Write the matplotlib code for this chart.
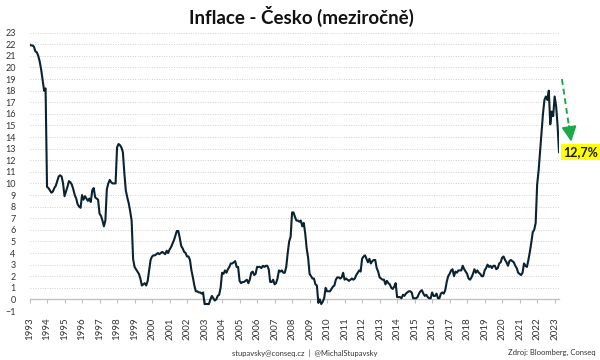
import numpy as np
import matplotlib.pyplot as plt

# monthly CPI y/y, Czech Republic, Jan 1993 - Apr 2023
years = list(range(1993, 2024))
cpi = [
    22.0, 21.9, 21.9, 21.8, 21.4, 21.3, 21.0, 20.5, 19.8, 18.9, 18.0, 18.2,   # 1993
    9.7, 9.6, 9.4, 9.2, 9.3, 9.6, 9.8, 10.2, 10.6, 10.7, 10.6, 10.0,         # 1994
    8.9, 9.3, 9.7, 10.2, 10.1, 9.9, 9.5, 9.0, 8.7, 8.2, 8.0, 7.9,            # 1995
    9.0, 8.6, 8.9, 8.7, 8.5, 8.7, 8.4, 9.4, 9.6, 8.8, 8.7, 8.6,              # 1996
    7.4, 7.2, 6.8, 6.3, 6.8, 9.5, 10.0, 10.3, 10.1, 10.0, 10.0, 10.0,        # 1997
    13.1, 13.4, 13.3, 13.1, 12.7, 10.9, 9.4, 8.8, 8.3, 7.6, 6.8, 3.5,        # 1998
    2.8, 2.6, 2.4, 2.2, 1.8, 1.2, 1.3, 1.4, 1.2, 1.6, 2.5, 3.4,              # 1999
    3.7, 3.8, 3.8, 3.9, 4.0, 3.9, 4.0, 4.1, 4.0, 3.9, 4.2, 4.0,              # 2000
    4.3, 4.5, 4.8, 5.1, 5.5, 5.9, 5.9, 5.3, 4.6, 4.4, 4.1, 4.0,              # 2001
    3.7, 3.7, 3.4, 2.5, 1.9, 1.2, 0.7, 0.7, 0.6, 0.6, 0.5, 0.6,              # 2002
    -0.4, -0.4, -0.4, -0.4, 0.0, 0.3, 0.1, -0.1, 0.0, 0.3, 0.4, 1.0,         # 2003
    2.3, 2.2, 2.5, 2.3, 2.6, 2.8, 3.1, 3.1, 3.2, 3.3, 2.8, 2.8,              # 2004
    1.6, 1.4, 1.5, 1.5, 1.6, 1.7, 1.4, 1.7, 2.3, 2.4, 2.1, 2.2,              # 2005
    2.8, 2.8, 2.8, 2.7, 2.9, 2.8, 2.9, 2.9, 2.6, 1.5, 1.5, 1.7,              # 2006
    1.3, 1.4, 1.8, 2.5, 2.4, 2.5, 2.3, 2.3, 2.8, 4.0, 5.0, 5.4,              # 2007
    7.5, 7.5, 7.1, 6.8, 6.8, 6.7, 6.8, 6.3, 6.6, 5.7, 4.4, 3.6,              # 2008
    2.2, 2.0, 1.8, 1.8, 1.3, 1.2, -0.3, 0.0, -0.4, -0.2, 0.1, 1.0,           # 2009
    0.7, 0.7, 0.7, 0.9, 1.1, 1.2, 1.7, 1.9, 1.9, 1.8, 1.9, 2.3,              # 2010
    1.7, 1.8, 1.7, 1.6, 1.7, 1.8, 1.7, 1.8, 2.1, 2.3, 2.5, 2.4,              # 2011
    3.5, 3.7, 3.8, 3.5, 3.2, 3.5, 3.1, 3.3, 3.4, 3.4, 2.7, 2.4,              # 2012
    1.9, 1.8, 1.7, 1.7, 1.3, 1.6, 1.4, 1.3, 1.0, 0.9, 1.1, 1.4,              # 2013
    0.2, 0.2, 0.2, 0.1, 0.4, 0.3, 0.5, 0.6, 0.7, 0.7, 0.6, 0.1,              # 2014
    0.1, 0.1, 0.2, 0.5, 0.7, 0.8, 0.5, 0.3, 0.4, 0.2, 0.1, 0.1,              # 2015
    0.6, 0.3, 0.3, 0.5, 0.1, 0.1, 0.5, 0.6, 0.5, 0.8, 1.5, 2.0,              # 2016
    2.2, 2.5, 2.6, 2.0, 2.4, 2.3, 2.5, 2.5, 2.5, 2.9, 2.6, 2.4,              # 2017
    2.2, 1.8, 1.7, 1.9, 2.2, 2.6, 2.3, 2.5, 2.3, 2.2, 2.0, 2.0,              # 2018
    2.5, 2.7, 3.0, 2.8, 2.9, 2.7, 2.9, 2.9, 2.6, 2.7, 3.1, 3.2,              # 2019
    3.6, 3.7, 3.4, 3.2, 2.9, 3.3, 3.4, 3.3, 3.2, 2.9, 2.7, 2.3,              # 2020
    2.2, 2.1, 2.3, 3.1, 2.9, 2.8, 3.4, 4.1, 4.9, 5.8, 6.0, 6.6,              # 2021
    9.9, 11.1, 12.7, 14.2, 16.0, 17.2, 17.5, 17.2, 18.0, 15.1, 16.2, 15.8,   # 2022
    17.5, 16.7, 15.0, 12.7,                                                  # 2023
]

title = "Inflace - Česko (meziročně)"
footer_left = "stupavsky@conseq.cz  |  @MichalStupavsky"
footer_right = "Zdroj: Bloomberg, Conseq"

plt.rcParams['font.family'] = ['Lato', 'DejaVu Sans']

fig = plt.figure(figsize=(6, 3.6), dpi=100)
ax = fig.add_axes([0.0492, 0.1361, 0.8825, 0.7731])

x = np.arange(len(cpi))
ax.plot(x, cpi, color='#0b2230', lw=1.5, solid_joinstyle='round', zorder=3)

for s in ['top', 'right', 'left']:
    ax.spines[s].set_visible(False)
ax.spines['bottom'].set_position(('data', 0))
ax.spines['bottom'].set_color('#bfbfbf')
ax.spines['bottom'].set_linewidth(0.9)

ax.set_xlim(0, len(cpi) - 1)
ax.set_ylim(-1, 23)
ax.set_yticks(range(-1, 24))
ax.set_xticks([12 * i for i in range(len(years))])
ax.set_xticklabels([str(y) for y in years])
ax.tick_params(axis='y', length=0, pad=10, labelsize=6.5, labelcolor='#333333')
ax.tick_params(axis='x', length=3, width=0.8, color='#bfbfbf', pad=10,
               labelrotation=90, labelsize=7, labelcolor='#333333')

for v in range(-1, 24):
    if v != 0:
        ax.axhline(v, color='#d0d0d0', lw=0.7, ls=(0, (1, 1.5)), zorder=1)

# last value label + dashed arrow pointing down to it
last_i = len(cpi) - 1
last_v = cpi[-1]
green = '#1ea84a'
x0, y0 = last_i + 2, last_v + 6.3
x1, y1 = last_i + 8.4, last_v + 0.9
ax.plot([x0, x0 + (x1 - x0) * 0.8], [y0, y0 + (y1 - y0) * 0.8], color=green, lw=1.4,
        ls=(0, (3, 2)), clip_on=False)
ax.annotate('', xy=(x1, y1), xytext=(x0 + (x1 - x0) * 0.75, y0 + (y1 - y0) * 0.75),
            arrowprops=dict(arrowstyle='-|>,head_width=0.45,head_length=0.9',
                            color=green, lw=1.4, shrinkA=0, shrinkB=0),
            annotation_clip=False)
ax.text(last_i + 2.6, last_v, f"{last_v:.1f}".replace('.', ',') + '%',
        fontsize=9, fontweight='bold', color='#1a1a1a', va='center', ha='left',
        bbox=dict(boxstyle='square,pad=0.15', fc='#ffff00', ec='none'), clip_on=False)

fig.text(0.503, 0.953, title, ha='center', va='center', fontsize=13.5, fontweight='bold',
         color='#111111')
fig.text(0.5085, 0.02, footer_left, ha='center', va='center', fontsize=5.5, color='#333333')
fig.text(0.992, 0.02, footer_right, ha='right', va='center', fontsize=5.5, color='#333333')

fig.savefig('out.png', dpi=100)
